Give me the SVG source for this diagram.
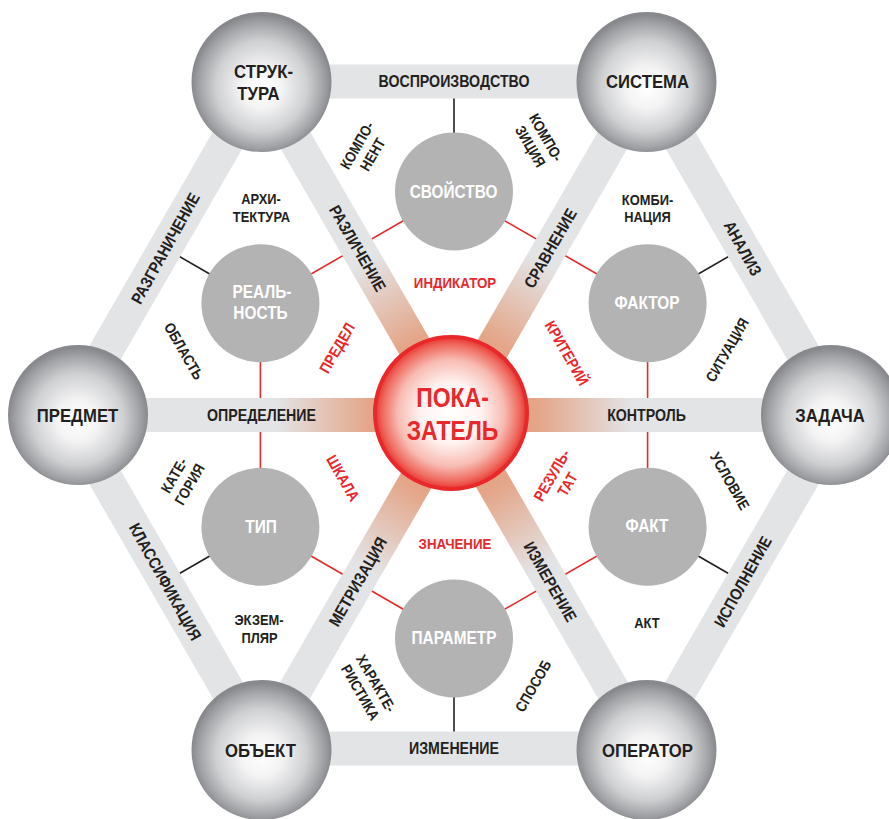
<svg xmlns="http://www.w3.org/2000/svg" width="889" height="819" viewBox="0 0 889 819">
<defs>
<radialGradient id="sphere" cx="0.5" cy="0.52" r="0.5" fx="0.5" fy="0.55">
<stop offset="0" stop-color="#ffffff"/>
<stop offset="0.3" stop-color="#f3f3f4"/>
<stop offset="0.65" stop-color="#cfd0d2"/>
<stop offset="0.88" stop-color="#a3a4a7"/>
<stop offset="1" stop-color="#88898c"/>
</radialGradient>
<radialGradient id="core" cx="0.5" cy="0.5" r="0.5">
<stop offset="0" stop-color="#ffffff"/>
<stop offset="0.4" stop-color="#fff3f1"/>
<stop offset="0.7" stop-color="#f8bcb3"/>
<stop offset="0.9" stop-color="#ef6a5f"/>
<stop offset="1" stop-color="#e8352f"/>
</radialGradient>
<linearGradient id="spoke" x1="0" y1="0" x2="1" y2="0">
<stop offset="0" stop-color="#dc8f70"/>
<stop offset="0.22" stop-color="#e4a689"/>
<stop offset="0.46" stop-color="#e3e4e6"/>
<stop offset="1" stop-color="#e3e4e6"/>
</linearGradient>
<style>
.bar{fill:none;stroke:#e3e4e6;stroke-width:34;stroke-linejoin:miter}
.red{fill:none;stroke:#e8282b;stroke-width:1.6}
.blk{fill:none;stroke:#231f20;stroke-width:1.6}
.inner{fill:#b3b3b3}
.o{font-family:"Liberation Sans",Arial,sans-serif;font-weight:bold;font-size:19px;fill:#231f20;text-anchor:middle}
.i{font-family:"Liberation Sans",Arial,sans-serif;font-weight:bold;font-size:17.5px;fill:#ffffff;text-anchor:middle}
.c{font-family:"Liberation Sans",Arial,sans-serif;font-weight:bold;font-size:28px;fill:#e8282b;text-anchor:middle}
.b{font-family:"Liberation Sans",Arial,sans-serif;font-weight:bold;font-size:16.5px;fill:#231f20;text-anchor:middle}
.s{font-family:"Liberation Sans",Arial,sans-serif;font-weight:bold;font-size:15px;fill:#231f20;text-anchor:middle}
.r{font-family:"Liberation Sans",Arial,sans-serif;font-weight:bold;font-size:15.5px;fill:#e8282b;text-anchor:middle}
</style>
</defs>
<rect width="889" height="819" fill="#ffffff"/>

<g id="connectors">
<polygon class="red" points="454,191.5 647.6,303.25 647.6,526.75 454,638.5 260.4,526.75 260.4,303.25"/>
<line class="blk" x1="454" y1="191.5" x2="454" y2="81.6"/>
<line class="blk" x1="647.6" y1="303.25" x2="742.75" y2="248.3"/>
<line class="blk" x1="647.6" y1="526.75" x2="742.75" y2="581.7"/>
<line class="blk" x1="454" y1="638.5" x2="454" y2="748.4"/>
<line class="blk" x1="260.4" y1="526.75" x2="165.25" y2="581.7"/>
<line class="blk" x1="260.4" y1="303.25" x2="165.25" y2="248.3"/>
<polygon class="bar" points="69,415 261.5,81.6 646.5,81.6 839,415 646.5,748.4 261.5,748.4"/>
<g transform="translate(454 415)">
<rect x="0" y="-17" width="385" height="34" fill="url(#spoke)" transform="rotate(180)"/>
<rect x="0" y="-17" width="385" height="34" fill="url(#spoke)" transform="rotate(0)"/>
<rect x="0" y="-17" width="385" height="34" fill="url(#spoke)" transform="rotate(-120)"/>
<rect x="0" y="-17" width="385" height="34" fill="url(#spoke)" transform="rotate(-60)"/>
<rect x="0" y="-17" width="385" height="34" fill="url(#spoke)" transform="rotate(60)"/>
<rect x="0" y="-17" width="385" height="34" fill="url(#spoke)" transform="rotate(120)"/>
</g>
<text class="b" transform="translate(454 87) scale(.86 1)">ВОСПРОИЗВОДСТВО</text>
<text class="b" transform="translate(454 754) scale(.86 1)">ИЗМЕНЕНИЕ</text>
<text class="b" transform="translate(261.5 421) scale(.86 1)">ОПРЕДЕЛЕНИЕ</text>
<text class="b" transform="translate(646.5 421) scale(.86 1)">КОНТРОЛЬ</text>
<text class="b" transform="translate(165.25 248.3) rotate(-61) scale(.86 1)" y="5.8">РАЗГРАНИЧЕНИЕ</text>
<text class="b" transform="translate(165.25 581.7) rotate(61) scale(.86 1)" y="5.8">КЛАССИФИКАЦИЯ</text>
<text class="b" transform="translate(742.75 248.3) rotate(61) scale(.86 1)" y="5.8">АНАЛИЗ</text>
<text class="b" transform="translate(742.75 581.7) rotate(-61) scale(.86 1)" y="5.8">ИСПОЛНЕНИЕ</text>
<text class="b" transform="translate(357.75 248.3) rotate(60) scale(.86 1)" y="5.8">РАЗЛИЧЕНИЕ</text>
<text class="b" transform="translate(550.25 248.3) rotate(-60) scale(.86 1)" y="5.8">СРАВНЕНИЕ</text>
<text class="b" transform="translate(357.75 581.7) rotate(-60) scale(.86 1)" y="5.8">МЕТРИЗАЦИЯ</text>
<text class="b" transform="translate(550.25 581.7) rotate(60) scale(.86 1)" y="5.8">ИЗМЕРЕНИЕ</text>
</g>

<g id="n-struktura">
<circle cx="261.5" cy="82" r="70" fill="url(#sphere)"/>
<text class="o" transform="translate(263.5 78) scale(.88 1)">СТРУК-</text>
<text class="o" transform="translate(258.5 100) scale(.88 1)">ТУРА</text>
</g>
<g id="n-sistema">
<circle cx="646.5" cy="82" r="70" fill="url(#sphere)"/>
<text class="o" transform="translate(647.5 88) scale(.88 1)">СИСТЕМА</text>
</g>
<g id="n-predmet">
<circle cx="78" cy="415" r="70" fill="url(#sphere)"/>
<text class="o" transform="translate(77.5 422) scale(.88 1)">ПРЕДМЕТ</text>
</g>
<g id="n-zadacha">
<circle cx="831" cy="415" r="70" fill="url(#sphere)"/>
<text class="o" transform="translate(830 422) scale(.88 1)">ЗАДАЧА</text>
</g>
<g id="n-obekt">
<circle cx="261.5" cy="750" r="70" fill="url(#sphere)"/>
<text class="o" transform="translate(260.5 757) scale(.88 1)">ОБЪЕКТ</text>
</g>
<g id="n-operator">
<circle cx="646.5" cy="750" r="70" fill="url(#sphere)"/>
<text class="o" transform="translate(647.5 757) scale(.88 1)">ОПЕРАТОР</text>
</g>

<g id="n-svoistvo">
<circle class="inner" cx="454" cy="191.5" r="59"/>
<text class="i" transform="translate(453.5 197.5) scale(.88 1)">СВОЙСТВО</text>
</g>
<g id="n-faktor">
<circle class="inner" cx="647.6" cy="303.25" r="59"/>
<text class="i" transform="translate(647 309) scale(.88 1)">ФАКТОР</text>
</g>
<g id="n-fakt">
<circle class="inner" cx="647.6" cy="526.75" r="59"/>
<text class="i" transform="translate(647 532) scale(.88 1)">ФАКТ</text>
</g>
<g id="n-parametr">
<circle class="inner" cx="454" cy="638.5" r="59"/>
<text class="i" transform="translate(454 644) scale(.88 1)">ПАРАМЕТР</text>
</g>
<g id="n-tip">
<circle class="inner" cx="260.4" cy="526.75" r="59"/>
<text class="i" transform="translate(261 532.5) scale(.88 1)">ТИП</text>
</g>
<g id="n-realnost">
<circle class="inner" cx="260.4" cy="303.25" r="59"/>
<text class="i" transform="translate(262 297.5) scale(.88 1)">РЕАЛЬ-</text>
<text class="i" transform="translate(260.5 318.5) scale(.88 1)">НОСТЬ</text>
</g>

<g id="n-pokazatel">
<circle cx="451" cy="413" r="76" fill="url(#core)" stroke="#e8282b" stroke-width="4"/>
<text class="c" transform="translate(452.5 407) scale(.82 1)">ПОКА-</text>
<text class="c" transform="translate(452.5 440) scale(.82 1)">ЗАТЕЛЬ</text>
</g>

<g id="labels">
<text class="s" transform="translate(261 204) scale(.86 1)">АРХИ-</text>
<text class="s" transform="translate(261.5 222) scale(.86 1)">ТЕКТУРА</text>
<text class="s" transform="translate(647.5 205) scale(.86 1)">КОМБИ-</text>
<text class="s" transform="translate(647.5 222) scale(.86 1)">НАЦИЯ</text>
<text class="s" transform="translate(259 625) scale(.86 1)">ЭКЗЕМ-</text>
<text class="s" transform="translate(259.5 643) scale(.86 1)">ПЛЯР</text>
<text class="s" transform="translate(647 628) scale(.86 1)">АКТ</text>
<g transform="translate(365 150) rotate(-60) scale(.86 1)">
<text class="s" y="-4">КОМПО-</text>
<text class="s" y="14">НЕНТ</text>
</g>
<g transform="translate(538 142) rotate(60) scale(.86 1)">
<text class="s" y="-4">КОМПО-</text>
<text class="s" y="14">ЗИЦИЯ</text>
</g>
<g transform="translate(182 480) rotate(-60) scale(.86 1)">
<text class="s" y="-4">КАТЕ-</text>
<text class="s" y="14">ГОРИЯ</text>
</g>
<g transform="translate(368 688) rotate(60) scale(.86 1)">
<text class="s" y="-4">ХАРАКТЕ-</text>
<text class="s" y="14">РИСТИКА</text>
</g>
<text class="s" transform="translate(184 351) rotate(60) scale(.86 1)" y="5.4">ОБЛАСТЬ</text>
<text class="s" transform="translate(727 350) rotate(-60) scale(.86 1)" y="5.4">СИТУАЦИЯ</text>
<text class="s" transform="translate(730 481) rotate(60) scale(.86 1)" y="5.4">УСЛОВИЕ</text>
<text class="s" transform="translate(533 686) rotate(-60) scale(.86 1)" y="5.4">СПОСОБ</text>
<text class="r" transform="translate(455 288) scale(.86 1)">ИНДИКАТОР</text>
<text class="r" transform="translate(455 549) scale(.86 1)">ЗНАЧЕНИЕ</text>
<text class="r" transform="translate(337 348) rotate(-60) scale(.86 1)" y="5.5">ПРЕДЕЛ</text>
<text class="r" transform="translate(567 353) rotate(60) scale(.86 1)" y="5.5">КРИТЕРИЙ</text>
<text class="r" transform="translate(343 478) rotate(60) scale(.86 1)" y="5.5">ШКАЛА</text>
<g transform="translate(560 480) rotate(-60) scale(.86 1)">
<text class="r" y="-4">РЕЗУЛЬ-</text>
<text class="r" y="14">ТАТ</text>
</g>
</g>
</svg>
